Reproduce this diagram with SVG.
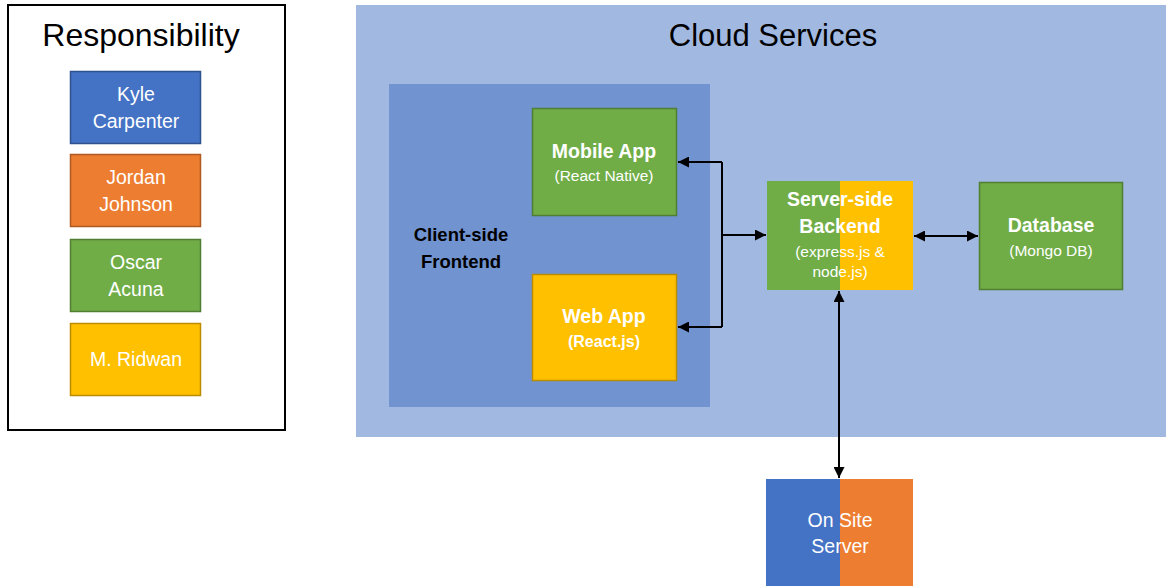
<svg xmlns="http://www.w3.org/2000/svg" width="1166" height="586" viewBox="0 0 1166 586">
  <style>
    text { font-family: "Liberation Sans", Arial, sans-serif; text-anchor: middle; }
    .title { font-size: 31px; fill: #000; }
    .name { font-size: 19.5px; fill: #fff; }
    .lbl { font-size: 19.5px; font-weight: bold; fill: #fff; }
    .sub { font-size: 15.5px; fill: #fff; }
    .dark { font-size: 18.5px; font-weight: bold; fill: #000; }
    .blue { fill: #4472c4; stroke: #2f528f; stroke-width: 1.5; }
    .orange { fill: #ed7d31; stroke: #ae5a21; stroke-width: 1.5; }
    .green { fill: #70ad47; stroke: #507e32; stroke-width: 1.5; }
    .yellow { fill: #ffc000; stroke: #bc8c00; stroke-width: 1.5; }
    .conn { stroke: #000; stroke-width: 2; fill: none; }
  </style>
  <defs>
    <marker id="arrow" viewBox="0 0 10 10" refX="10" refY="5" markerWidth="5.5" markerHeight="5.5" orient="auto-start-reverse" markerUnits="strokeWidth">
      <path d="M0,0 L10,5 L0,10 z" fill="#000"/>
    </marker>
  </defs>

  <rect width="1166" height="586" fill="#fff"/>

  <!-- legend -->
  <g id="legend">
    <rect x="8" y="5" width="277" height="425" fill="#fff" stroke="#000" stroke-width="2"/>
    <text class="title" x="141" y="46" style="font-size:32px">Responsibility</text>
    <g id="legend-kyle">
      <rect class="blue" x="70.5" y="71.5" width="130" height="72"/>
      <text class="name" x="136" y="101">Kyle</text>
      <text class="name" x="136" y="128">Carpenter</text>
    </g>
    <g id="legend-jordan">
      <rect class="orange" x="70.5" y="154.5" width="130" height="72"/>
      <text class="name" x="136" y="184">Jordan</text>
      <text class="name" x="136" y="211">Johnson</text>
    </g>
    <g id="legend-oscar">
      <rect class="green" x="70.5" y="239.5" width="130" height="72"/>
      <text class="name" x="136" y="269">Oscar</text>
      <text class="name" x="136" y="296">Acuna</text>
    </g>
    <g id="legend-ridwan">
      <rect class="yellow" x="70.5" y="323.5" width="130" height="72"/>
      <text class="name" x="136" y="366">M. Ridwan</text>
    </g>
  </g>

  <!-- cloud services container -->
  <g id="cloud">
    <rect x="356" y="5" width="810" height="432" fill="#a1b8e1"/>
    <text class="title" x="773" y="46">Cloud Services</text>
  </g>

  <!-- client-side frontend container -->
  <g id="frontend">
    <rect x="389" y="84" width="321" height="323" fill="#7193d0"/>
    <text class="dark" x="461" y="241">Client-side</text>
    <text class="dark" x="461" y="268">Frontend</text>
  </g>

  <g id="mobile-app">
    <rect class="green" x="532.5" y="108.5" width="144" height="107"/>
    <text class="lbl" x="604" y="158">Mobile App</text>
    <text class="sub" x="604" y="181">(React Native)</text>
  </g>

  <g id="web-app">
    <rect class="yellow" x="532.5" y="274.5" width="144" height="106"/>
    <text class="lbl" x="604" y="323">Web App</text>
    <text class="lbl" x="604" y="347" style="font-size:16px">(React.js)</text>
  </g>

  <g id="backend">
    <rect x="767" y="181" width="73" height="109" fill="#70ad47"/>
    <rect x="840" y="181" width="73" height="109" fill="#ffc000"/>
    <text class="lbl" x="840" y="206">Server-side</text>
    <text class="lbl" x="840" y="233">Backend</text>
    <text class="sub" x="840" y="257">(express.js &amp;</text>
    <text class="sub" x="840" y="277">node.js)</text>
  </g>

  <g id="database">
    <rect class="green" x="979.5" y="182.5" width="143" height="107"/>
    <text class="lbl" x="1051" y="232">Database</text>
    <text class="sub" x="1051" y="256">(Mongo DB)</text>
  </g>

  <g id="onsite-server">
    <rect x="766" y="479" width="74" height="107" fill="#4472c4"/>
    <rect x="840" y="479" width="73" height="107" fill="#ed7d31"/>
    <text class="name" x="840" y="527">On Site</text>
    <text class="name" x="840" y="553">Server</text>
  </g>

  <!-- connectors -->
  <g id="connectors">
    <polyline class="conn" points="722,162 722,327"/>
    <line class="conn" x1="722" y1="162" x2="678" y2="162" marker-end="url(#arrow)"/>
    <line class="conn" x1="722" y1="327" x2="678" y2="327" marker-end="url(#arrow)"/>
    <line class="conn" x1="722" y1="235" x2="766" y2="235" marker-end="url(#arrow)"/>
    <line class="conn" x1="914" y1="236" x2="978" y2="236" marker-start="url(#arrow)" marker-end="url(#arrow)"/>
    <line class="conn" x1="839" y1="291" x2="839" y2="478" marker-start="url(#arrow)" marker-end="url(#arrow)"/>
  </g>
</svg>
